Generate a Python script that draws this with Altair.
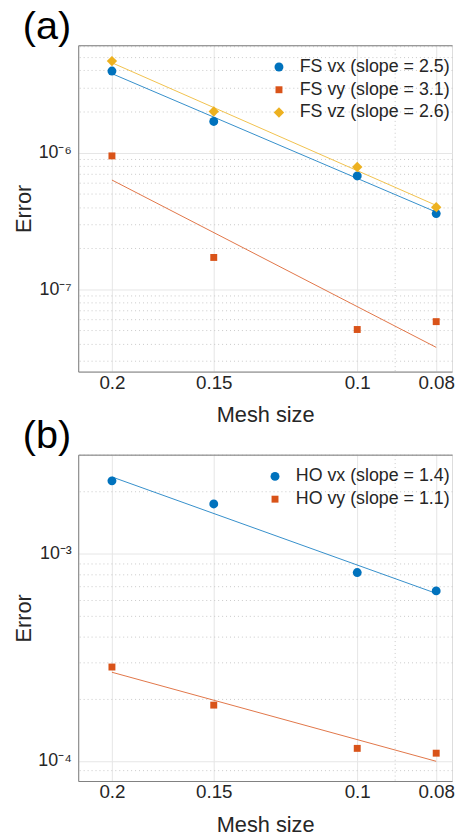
import altair as alt
import pandas as pd

# ---------------- data ----------------
mesh = [0.2, 0.15, 0.1, 0.08]
fit_mesh = [0.2, 0.08]

fs_vx = [3.95e-6, 1.69e-6, 6.75e-7, 3.58e-7]
fs_vy = [9.46e-7, 1.71e-7, 5.08e-8, 5.80e-8]
fs_vz = [4.67e-6, 2.00e-6, 7.84e-7, 3.98e-7]
fs_vx_fit = [3.78e-6, 3.67e-7]
fs_vy_fit = [6.30e-7, 3.76e-8]
fs_vz_fit = [4.54e-6, 4.11e-7]

ho_vx = [2.25e-3, 1.74e-3, 8.12e-4, 6.62e-4]
ho_vy = [2.84e-4, 1.86e-4, 1.15e-4, 1.09e-4]
ho_vx_fit = [2.35e-3, 6.44e-4]
ho_vy_fit = [2.68e-4, 9.96e-5]

fs_labels = ["FS vx (slope = 2.5)", "FS vy (slope = 3.1)", "FS vz (slope = 2.6)"]
ho_labels = ["HO vx (slope = 1.4)", "HO vy (slope = 1.1)"]

x_ticks = [0.08, 0.09, 0.1, 0.15, 0.2]
x_domain = [0.0765, 0.22]

ya_ticks = [3e-8, 4e-8, 5e-8, 6e-8, 7e-8, 8e-8, 9e-8, 1e-7,
            2e-7, 3e-7, 4e-7, 5e-7, 6e-7, 7e-7, 8e-7, 9e-7, 1e-6,
            2e-6, 3e-6, 4e-6, 5e-6, 6e-6]
ya_domain = [2.5e-8, 6.1e-6]
yb_ticks = [9e-5, 1e-4, 2e-4, 3e-4, 4e-4, 5e-4, 6e-4, 7e-4, 8e-4, 9e-4,
            1e-3, 2e-3, 3e-3]
yb_domain = [8.0e-5, 3.01e-3]

colors = ["#0072BD", "#D95319", "#EDB120"]
shapes = ["circle", "square", "diamond"]
sizes = [81, 49, 110]

FONT = "Liberation Sans"
W, H = 378, 330

MINOR = "abs(log(datum.value)/LN10 - round(log(datum.value)/LN10)) > 0.01"
SUP = {"-": "\u207b", "0": "\u2070", "1": "\u00b9", "2": "\u00b2", "3": "\u00b3",
       "4": "\u2074", "5": "\u2075", "6": "\u2076", "7": "\u2077", "8": "\u2078", "9": "\u2079"}


def sup_label_expr(exps):
    parts = []
    for e in exps:
        s = "".join(SUP[c] for c in str(e))
        parts.append(f"round(log(datum.value)/LN10) == {e} ? '10{s}' : ")
    return f"({MINOR}) ? '' : " + "".join(parts) + "''"


def panel(title, labels, pts, fits, ticks, ydom, exps, leg_x):
    n = len(labels)
    rows = []
    for lab, ys in zip(labels, pts):
        for m, v in zip(mesh, ys):
            rows.append({"mesh": m, "err": v, "series": lab})
    pdf = pd.DataFrame(rows)
    frows = []
    for lab, ys in zip(labels, fits):
        for m, v in zip(fit_mesh, ys):
            frows.append({"mesh": m, "err": v, "series": lab})
    fdf = pd.DataFrame(frows)

    xscale = alt.Scale(type="log", domain=x_domain, reverse=True, nice=False)
    yscale = alt.Scale(type="log", domain=ydom, nice=False)
    cscale = alt.Scale(domain=labels, range=colors[:n])

    xaxis = alt.Axis(values=x_ticks, format=".2~f", grid=True,
                     labelExpr="datum.value == 0.09 ? '' : datum.label",
                     labelFont=FONT, labelFontSize=19, labelColor="#262626",
                     labelPadding=2, ticks=False,
                     domainColor="#7f7f7f",
                     gridColor={"condition": {"test": "datum.value == 0.09", "value": "#c8c8c8"}, "value": "#e6e6e6"},
                     gridDash={"condition": {"test": "datum.value == 0.09", "value": [1, 3]}, "value": []},
                     title="Mesh size", titleFont=FONT, titleFontSize=22,
                     titleFontWeight="normal", titleColor="#262626",
                     titleBaseline="alphabetic", titleY=50.6)
    yaxis = alt.Axis(values=ticks, labelExpr=sup_label_expr(exps), grid=True,
                     labelFont=FONT, labelFontSize=18, labelColor="#262626",
                     labelPadding=7, ticks=False, domainColor="#7f7f7f",
                     gridColor={"condition": {"test": MINOR, "value": "#c8c8c8"}, "value": "#e6e6e6"},
                     gridDash={"condition": {"test": MINOR, "value": [1, 3]}, "value": []},
                     title="Error", titleFont=FONT, titleFontSize=22,
                     titleFontWeight="normal", titleColor="#262626",
                     titleBaseline="alphabetic", titleAngle=-90,
                     titleX=-48.7, titleY=H / 2, titleAlign="center")

    legend = alt.Legend(title=None, orient="none", legendX=leg_x, legendY=13,
                        padding=0, labelFont=FONT, labelFontSize=18,
                        labelColor="#262626", labelOffset=12,
                        rowPadding=5, symbolStrokeWidth=0)
    points = alt.Chart(pdf).mark_point(filled=True, opacity=1).encode(
        x=alt.X("mesh:Q", scale=xscale, axis=xaxis),
        y=alt.Y("err:Q", scale=yscale, axis=yaxis),
        color=alt.Color("series:N", scale=cscale, legend=legend),
        shape=alt.Shape("series:N", scale=alt.Scale(domain=labels, range=shapes[:n]), legend=legend),
        size=alt.Size("series:N", scale=alt.Scale(type="ordinal", domain=labels, range=sizes[:n]),
                      legend=legend),
    )
    lines = alt.Chart(fdf).mark_line(strokeWidth=0.8, clip=True).encode(
        x=alt.X("mesh:Q", scale=xscale,
                axis=alt.Axis(orient="top", labels=False, ticks=False, grid=False,
                              title=None, domainColor="#7f7f7f")),
        y=alt.Y("err:Q", scale=yscale),
        color=alt.Color("series:N", scale=cscale),
        detail="series:N",
    )
    return alt.layer(points, lines).resolve_axis(x="independent").properties(
        width=W, height=H,
        title=alt.TitleParams(title, anchor="start", dx=-56, dy=33.5, fontSize=40,
                              font=FONT, fontWeight="normal", color="#000000",
                              baseline="alphabetic", offset=0, frame="group"),
    )


pa = panel("(a)", fs_labels, [fs_vx, fs_vy, fs_vz], [fs_vx_fit, fs_vy_fit, fs_vz_fit],
           ya_ticks, ya_domain, [-7, -6], 194)
pb = panel("(b)", ho_labels, [ho_vx, ho_vy], [ho_vx_fit, ho_vy_fit],
           yb_ticks, yb_domain, [-4, -3], 190)

chart = alt.vconcat(pa, pb, spacing=-11).resolve_scale(
    color="independent", shape="independent", size="independent"
).properties(padding={"left": 3, "top": -6, "right": 0, "bottom": 0}).configure_view(
    stroke=None
).configure(background="white")

chart.save("out.html", embed_options={"renderer": "svg", "actions": False})
